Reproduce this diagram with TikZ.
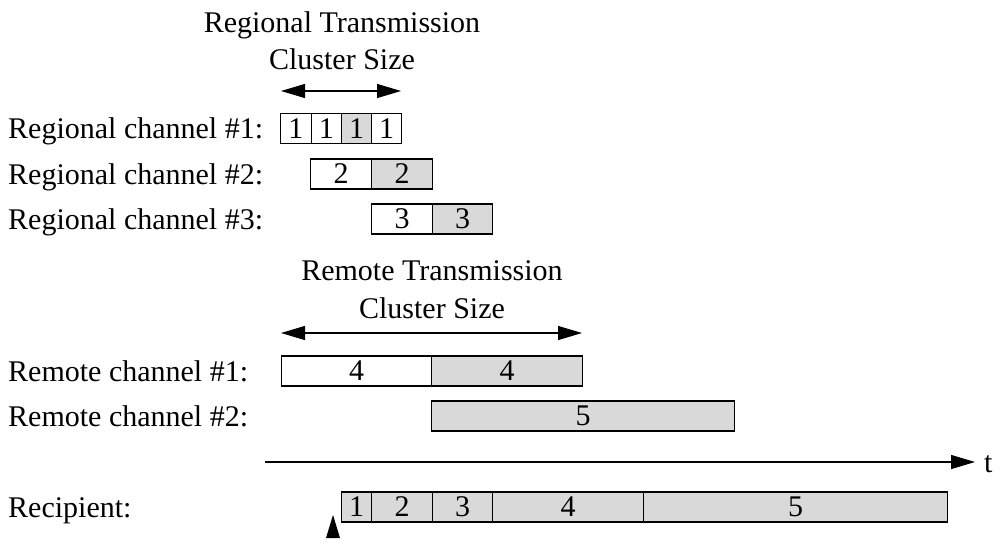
\documentclass[tikz,border=0pt]{standalone}
\usepackage{fontspec}
\setmainfont{Liberation Serif}
\usetikzlibrary{arrows.meta}
\definecolor{cellgray}{gray}{0.85}
\tikzset{
  cell/.style={draw=black, line width=1.1pt, minimum height=30pt, inner sep=0pt, anchor=west, font=\fontsize{30}{36}\selectfont},
  graycell/.style={cell, fill=cellgray},
  lbl/.style={anchor=base west, inner sep=0pt, font=\fontsize{30}{36}\selectfont},
  ttl/.style={anchor=base, inner sep=0pt, font=\fontsize{30}{36}\selectfont},
  span/.style={line width=1.2pt, {Triangle[length=24pt,width=14pt]}-{Triangle[length=24pt,width=14pt]}},
  axis/.style={line width=1.2pt, -{Triangle[length=24pt,width=14pt]}}
}
\begin{document}
\begin{tikzpicture}[x=1pt,y=-1pt]
\useasboundingbox (0,0) rectangle (1000,554);
% titles
\node[ttl] (rt1) at (342,32) {Regional Transmission};
\node[ttl] (rt2) at (342,69) {Cluster Size};
\coordinate (ra) at (281,91);
\coordinate (rb) at (401,91);
\draw[span] (ra) -- (rb);
% regional channel labels
\node[lbl] (l1) at (8,138) {Regional channel \#1:};
\node[lbl] (l2) at (8,184) {Regional channel \#2:};
\node[lbl] (l3) at (8,229) {Regional channel \#3:};
% regional channel 1
\node[cell, minimum width=30.5pt] (c11) at (280,128.5) {1};
\node[cell, minimum width=30.5pt] (c12) at (310.5,128.5) {1};
\node[graycell, minimum width=30pt] (c13) at (341,128.5) {1};
\node[cell, minimum width=30pt] (c14) at (371,128.5) {1};
% regional channel 2
\node[cell, minimum width=61pt] (c21) at (310,174) {2};
\node[graycell, minimum width=61pt] (c22) at (371,174) {2};
% regional channel 3
\node[cell, minimum width=61pt] (c31) at (371,219) {3};
\node[graycell, minimum width=60pt] (c32) at (432,219) {3};
% remote title
\node[ttl] (mt1) at (432,280) {Remote Transmission};
\node[ttl] (mt2) at (432,318) {Cluster Size};
\coordinate (ma) at (281,333);
\coordinate (mb) at (582,333);
\draw[span] (ma) -- (mb);
% remote labels
\node[lbl] (m1) at (8,381) {Remote channel \#1:};
\node[lbl] (m2) at (8,426) {Remote channel \#2:};
\node[cell, minimum width=150pt] (r11) at (281,371) {4};
\node[graycell, minimum width=151pt] (r12) at (431,371) {4};
\node[graycell, minimum width=303pt] (r21) at (431,416) {5};
% time axis
\coordinate (ta) at (265,462);
\coordinate (tb) at (975,462);
\draw[axis] (ta) -- (tb);
\node[lbl] (t) at (984,472) {t};
% recipient
\node[lbl] (rc) at (8,517) {Recipient:};
\node[graycell, minimum width=30pt] (p1) at (341,507) {1};
\node[graycell, minimum width=61pt] (p2) at (371,507) {2};
\node[graycell, minimum width=60pt] (p3) at (432,507) {3};
\node[graycell, minimum width=151pt] (p4) at (492,507) {4};
\node[graycell, minimum width=304pt] (p5) at (643,507) {5};
% start marker
\fill (333,515) -- (340,538) -- (326,538) -- cycle;
\end{tikzpicture}
\end{document}
